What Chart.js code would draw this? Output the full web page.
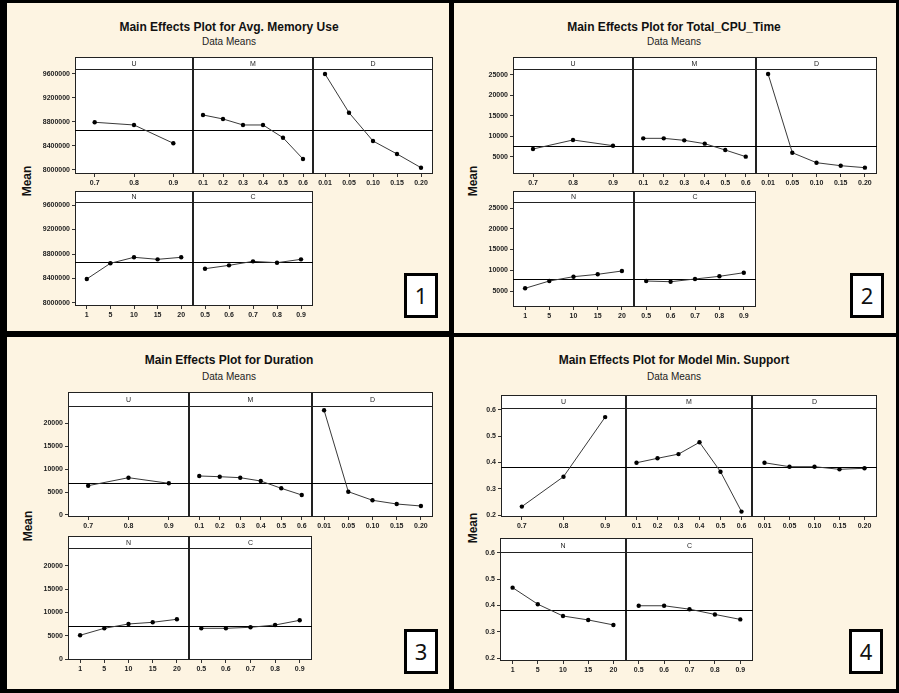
<!DOCTYPE html>
<html>
<head>
<meta charset="utf-8">
<script src="https://cdn.jsdelivr.net/npm/chart.js@4.4.0/dist/chart.umd.min.js"></script>
<style>
  body { margin: 0; width: 899px; height: 693px; background: #000; position: relative; overflow: hidden;
         font-family: "Liberation Sans", Arial, sans-serif; }
  .quad { position: absolute; background: #fdf4e2; }
  .title { position: absolute; font-weight: bold; font-size: 12px; line-height: 14px; color: #111;
           white-space: nowrap; transform: translateX(-50%); }
  .sub { position: absolute; font-size: 10px; line-height: 12px; color: #222; white-space: nowrap;
         transform: translateX(-50%); }
  .mean { position: absolute; font-weight: bold; font-size: 12px; line-height: 14px; color: #111;
          transform: translate(-50%, -50%) rotate(-90deg); }
  .num { position: absolute; background: #fff; border: 3px solid #000; box-sizing: border-box;
         font-family: "Noto Sans", sans-serif; font-size: 22px; text-align: center; color: #111; }
  canvas { position: absolute; }
</style>
</head>
<body>
<script>
// factor levels (x axis categories)
var uLevels = ["0.7", "0.8", "0.9"];
var mLevels = ["0.1", "0.2", "0.3", "0.4", "0.5", "0.6"];
var dLevels = ["0.01", "0.05", "0.10", "0.15", "0.20"];
var nLevels = ["1", "5", "10", "15", "20"];
var cLevels = ["0.5", "0.6", "0.7", "0.8", "0.9"];

// 1 - Avg. Memory Use
var memU = [8795000, 8750000, 8445000];
var memM = [8917000, 8850000, 8750000, 8750000, 8538000, 8183000];
var memD = [9600000, 8955000, 8483000, 8267000, 8038000];
var memN = [8392000, 8648000, 8746000, 8713000, 8746000];
var memC = [8560000, 8615000, 8680000, 8658000, 8713000];
var memMean = 8667000;
var memTicks = [8000000, 8400000, 8800000, 9200000, 9600000];

// 2 - Total_CPU_Time
var cpuU = [6950, 9150, 7760];
var cpuM = [9550, 9550, 9060, 8250, 6700, 5080];
var cpuD = [25240, 6050, 3610, 2880, 2400];
var cpuN = [5650, 7410, 8450, 9020, 9820];
var cpuC = [7410, 7240, 7890, 8540, 9410];
var cpuMean = 7800;
var cpuTicks = [5000, 10000, 15000, 20000, 25000];

// 3 - Duration
var durU = [6370, 8110, 6890];
var durM = [8480, 8330, 8110, 7390, 5800, 4350];
var durD = [22760, 5070, 3200, 2390, 1960];
var durN = [5100, 6600, 7530, 7890, 8540];
var durC = [6600, 6600, 6820, 7310, 8320];
var durMean = 7000;
var durTicks = [0, 5000, 10000, 15000, 20000];

// 4 - Model Min. Support
var supU = [0.232, 0.346, 0.573];
var supM = [0.399, 0.416, 0.432, 0.477, 0.365, 0.213];
var supD = [0.399, 0.384, 0.384, 0.374, 0.378];
var supN = [0.468, 0.405, 0.360, 0.345, 0.326];
var supC = [0.399, 0.399, 0.386, 0.366, 0.347];
var supMean = 0.382;
var supTicks = [0.2, 0.3, 0.4, 0.5, 0.6];

var factorNames = ["U", "M", "D", "N", "C"];
var factorLevels = [uLevels, mLevels, dLevels, nLevels, cLevels];

var plots = [
  { title: "Main Effects Plot for Avg. Memory Use", num: "1",
    series: [memU, memM, memD, memN, memC], mean: memMean, ticks: memTicks,
    fmt: function (v) { return String(v); },
    area: [7, 3, 442, 328], cx: 229, titleY: 27, subY: 42, meanPos: [27, 181], numBox: [404, 273, 34, 45],
    rows: [{ top: 57, strip: 69, bottom: 174, cols: [75, 193, 313, 433], range: [7933000, 9683000] },
           { top: 191, strip: 202, bottom: 306, cols: [75, 193, 313], range: [7951000, 9649000] }] },
  { title: "Main Effects Plot for Total_CPU_Time", num: "2",
    series: [cpuU, cpuM, cpuD, cpuN, cpuC], mean: cpuMean, ticks: cpuTicks,
    fmt: function (v) { return String(v); },
    area: [454, 3, 442, 330], cx: 674, titleY: 27, subY: 42, meanPos: [473, 181], numBox: [850, 273, 34, 45],
    rows: [{ top: 57, strip: 69, bottom: 174, cols: [513, 633, 756, 877], range: [854, 26460] },
           { top: 191, strip: 202, bottom: 307, cols: [513, 634, 756], range: [1145, 26450] }] },
  { title: "Main Effects Plot for Duration", num: "3",
    series: [durU, durM, durD, durN, durC], mean: durMean, ticks: durTicks,
    fmt: function (v) { return String(v); },
    area: [7, 337, 442, 352], cx: 229, titleY: 360, subY: 377, meanPos: [28, 526], numBox: [404, 629, 34, 45],
    rows: [{ top: 392, strip: 406, bottom: 517, cols: [68, 189, 312, 433], range: [-435, 23700] },
           { top: 536, strip: 548, bottom: 660, cols: [68, 189, 312], range: [-215, 23870] }] },
  { title: "Main Effects Plot for Model Min. Support", num: "4",
    series: [supU, supM, supD, supN, supC], mean: supMean, ticks: supTicks,
    fmt: function (v) { return v.toFixed(1); },
    area: [454, 337, 442, 352], cx: 674, titleY: 360, subY: 377, meanPos: [473, 528], numBox: [849, 629, 34, 45],
    rows: [{ top: 395, strip: 408, bottom: 517, cols: [501, 626, 752, 877], range: [0.1924, 0.6076] },
           { top: 538, strip: 552, bottom: 661, cols: [500, 626, 753], range: [0.1886, 0.6038] }] }
];

var tickFont = { family: "Liberation Sans", size: 7, weight: "bold" };

var panelPlugin = {
  id: "panel",
  beforeDatasetsDraw: function (chart, args, opts) {
    var ctx = chart.ctx, a = chart.chartArea;
    var top = a.top - opts.strip;
    ctx.save();
    ctx.fillStyle = "#fff";
    ctx.fillRect(a.left, top, a.width, a.bottom - top);
    ctx.strokeStyle = "#222";
    ctx.lineWidth = 1;
    ctx.strokeRect(a.left + 0.5, top + 0.5, a.width - 1, a.bottom - top - 1);
    ctx.beginPath();
    ctx.moveTo(a.left, Math.round(a.top) + 0.5);
    ctx.lineTo(a.right, Math.round(a.top) + 0.5);
    ctx.stroke();
    ctx.fillStyle = "#222";
    ctx.font = "7px 'Liberation Sans'";
    ctx.textAlign = "center";
    ctx.textBaseline = "middle";
    ctx.fillText(opts.label, (a.left + a.right) / 2, top + opts.strip / 2 + 1);
    var y = Math.round(chart.scales.y.getPixelForValue(opts.mean)) + 0.5;
    ctx.strokeStyle = "#000";
    ctx.beginPath();
    ctx.moveTo(a.left, y);
    ctx.lineTo(a.right, y);
    ctx.stroke();
    ctx.restore();
  }
};

function addDiv(cls, text, left, top) {
  var d = document.createElement("div");
  d.className = cls;
  d.textContent = text;
  d.style.left = left + "px";
  d.style.top = top + "px";
  document.body.appendChild(d);
  return d;
}

function makePanel(p, rowIdx, colIdx, k) {
  var row = p.rows[rowIdx];
  var left = row.cols[colIdx], right = row.cols[colIdx + 1];
  var first = colIdx === 0;
  var extraL = first ? 50 : 0;
  var extraB = 18;
  var cv = document.createElement("canvas");
  cv.width = right - left + extraL;
  cv.height = row.bottom - row.top + extraB;
  cv.style.left = (left - extraL) + "px";
  cv.style.top = row.top + "px";
  document.body.appendChild(cv);

  new Chart(cv, {
    type: "line",
    data: {
      labels: factorLevels[k],
      datasets: [{
        data: p.series[k],
        borderColor: "#3a3a3a",
        borderWidth: 1,
        pointRadius: 2.2,
        pointBackgroundColor: "#000",
        pointBorderColor: "#000",
        pointBorderWidth: 0,
        tension: 0,
        clip: false
      }]
    },
    options: {
      responsive: false,
      animation: false,
      devicePixelRatio: 1,
      layout: { autoPadding: false, padding: { top: row.strip - row.top, left: 0, right: 0, bottom: 0 } },
      plugins: {
        legend: { display: false },
        tooltip: { enabled: false },
        panel: { label: factorNames[k], strip: row.strip - row.top, mean: p.mean }
      },
      scales: {
        x: {
          type: "category",
          offset: true,
          grid: { drawOnChartArea: false, drawTicks: true, tickLength: 3, color: "#333" },
          border: { display: false },
          ticks: { font: tickFont, color: "#222", padding: 2, maxRotation: 0, autoSkip: false },
          afterFit: function (s) { s.height = extraB; s.paddingLeft = 0; s.paddingRight = 0; }
        },
        y: {
          display: first,
          min: row.range[0],
          max: row.range[1],
          grid: { drawOnChartArea: false, drawTicks: true, tickLength: 3, color: "#333" },
          border: { display: false },
          ticks: { font: tickFont, color: "#222", padding: 2, callback: p.fmt },
          afterBuildTicks: function (s) { s.ticks = p.ticks.map(function (v) { return { value: v }; }); },
          afterFit: function (s) { s.width = extraL; s.paddingTop = 0; s.paddingBottom = 0; }
        }
      }
    },
    plugins: [panelPlugin]
  });
}

plots.forEach(function (p) {
  var q = document.createElement("div");
  q.className = "quad";
  q.style.left = p.area[0] + "px";
  q.style.top = p.area[1] + "px";
  q.style.width = p.area[2] + "px";
  q.style.height = p.area[3] + "px";
  document.body.appendChild(q);

  addDiv("title", p.title, p.cx, p.titleY - 7);
  addDiv("sub", "Data Means", p.cx, p.subY - 6);
  addDiv("mean", "Mean", p.meanPos[0], p.meanPos[1]);
  var nb = addDiv("num", p.num, p.numBox[0], p.numBox[1]);
  nb.style.width = p.numBox[2] + "px";
  nb.style.height = p.numBox[3] + "px";
  nb.style.lineHeight = (p.numBox[3] - 6) + "px";

  makePanel(p, 0, 0, 0);
  makePanel(p, 0, 1, 1);
  makePanel(p, 0, 2, 2);
  makePanel(p, 1, 0, 3);
  makePanel(p, 1, 1, 4);
});
</script>
</body>
</html>
